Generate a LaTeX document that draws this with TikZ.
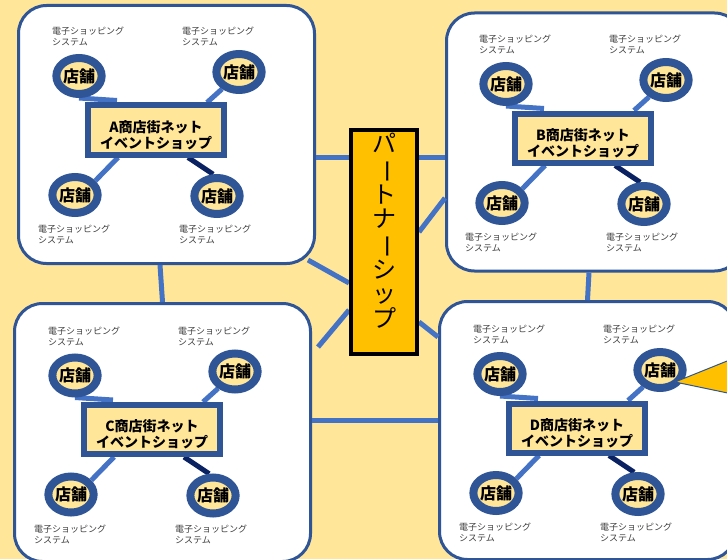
\documentclass[tikz,border=0pt]{standalone}
\usepackage{fontspec}
\setmainfont{Noto Sans CJK JP}
\usepackage{graphicx}
\usetikzlibrary{shapes.geometric}
\definecolor{bg}{HTML}{FFE699}
\definecolor{navyb}{HTML}{2F5597}
\definecolor{conn}{HTML}{4472C4}
\definecolor{dconn}{HTML}{0A2262}
\definecolor{gold}{HTML}{FFC000}
\definecolor{lbl}{HTML}{404040}
\pgfdeclarelayer{back}
\pgfdeclarelayer{mid}
\pgfsetlayers{back,mid,main}
\tikzset{
  panel/.style={draw=navyb, line width=3pt, fill=white, rounded corners=28pt,
    minimum width=296pt, minimum height=258pt, inner sep=0pt},
  store/.style={ellipse, draw=navyb, line width=8pt, fill=bg, minimum width=44pt,
    minimum height=36pt, inner sep=0pt, font=\bfseries\fontsize{16}{16}\selectfont},
  shopbox/.style={draw=navyb, line width=6pt, fill=bg, minimum width=136pt,
    minimum height=49pt, inner sep=0pt, align=center,
    font=\bfseries\fontsize{14}{16}\selectfont},
  sys/.style={anchor=north west, inner sep=0pt, align=left, text=lbl,
    font=\fontsize{9}{11}\selectfont},
  link/.style={draw=conn, line width=5pt},
  dlink/.style={draw=dconn, line width=5pt},
  partner/.style={draw=black, line width=4pt, fill=gold, minimum width=66pt,
    minimum height=224pt, inner sep=0pt, align=center,
    font=\fontsize{24}{24.5}\selectfont},
  callout/.style={fill=gold, draw=navyb, line width=1pt}
}
\newcommand\vbar{\rotatebox[origin=c]{-90}{ー}}
\newcommand\shopgroup[4]{%
  \node[shopbox] (#1box) at (#2,#3) {\rule{0pt}{22pt}#4商店街ネット\\イベントショップ};
  \node[store] (#1s1) at ({#2-77},{#3-54}) {店舗};
  \node[store] (#1s2) at ({#2+83},{#3-58}) {店舗};
  \node[store] (#1s3) at ({#2-81},{#3+65}) {店舗};
  \node[store] (#1s4) at ({#2+61},{#3+66}) {店舗};
  \node[sys] (#1t1) at ({#2-104},{#3-103}) {電子ショッピング\\システム};
  \node[sys] (#1t2) at ({#2+26},{#3-103}) {電子ショッピング\\システム};
  \node[sys] (#1t3) at ({#2-118},{#3+95}) {電子ショッピング\\システム};
  \node[sys] (#1t4) at ({#2+23},{#3+95}) {電子ショッピング\\システム};
  \begin{pgfonlayer}{mid}
    \draw[link] (#1s1.south) -- ([xshift=32pt,yshift=2pt]#1box.north west);
    \draw[link] (#1s2.225) -- ([xshift=-20pt]#1box.north east);
    \draw[link] ([xshift=33pt]#1box.south west) -- (#1s3.35);
    \draw[dlink] ([xshift=-39pt]#1box.south east) -- (#1s4.100);
  \end{pgfonlayer}
}
\begin{document}
\begin{tikzpicture}[x=1pt,y=-1pt]
\useasboundingbox (0,0) rectangle (727,559);
\begin{pgfonlayer}{back}
  \fill[bg] (0,0) rectangle (727,559);
  \node[panel] (pA) at (166.5,134.5) {};
  \node[panel] (pB) at (594.5,142) {};
  \node[panel] (pC) at (162.5,432.5) {};
  \node[panel] (pD) at (587.5,430.5) {};
\end{pgfonlayer}
\node[partner] (pt) at (384,242) {パ\\\vbar\\ト\\ナ\\\vbar\\シ\\ッ\\プ\rule[-24pt]{0pt}{0pt}};
\begin{pgfonlayer}{mid}
  \draw[link] ([yshift=-22.5pt]pA.east) -- ([yshift=-15pt]pB.west);
  \draw[link] ([yshift=-56pt]pB.west) -- ([yshift=10pt]pt.east);
  \draw[link] ([xshift=-8pt,yshift=5pt]pA.south east) -- ([yshift=-41pt]pt.west);
  \draw[link] ([yshift=-68pt]pt.west) -- ([xshift=6pt,yshift=-45pt]pC.north east);
  \draw[link] ([yshift=-80pt]pt.east) -- ([yshift=-37pt]pD.north west);
  \draw[link] ([yshift=12.5pt]pC.east) -- ([yshift=10.5pt]pD.west);
  \draw[link] ([xshift=-6.5pt]pA.south) -- (pC.north);
  \draw[link] ([xshift=-5.5pt]pB.south) -- (pD.north);
\end{pgfonlayer}
\shopgroup{A}{156}{130}{A}
\shopgroup{B}{583}{138}{B}
\shopgroup{C}{152}{429.5}{C}
\shopgroup{D}{577}{428}{D}
\path[callout] (675,382) -- (742,355) -- (742,396) -- cycle;
\end{tikzpicture}
\end{document}
